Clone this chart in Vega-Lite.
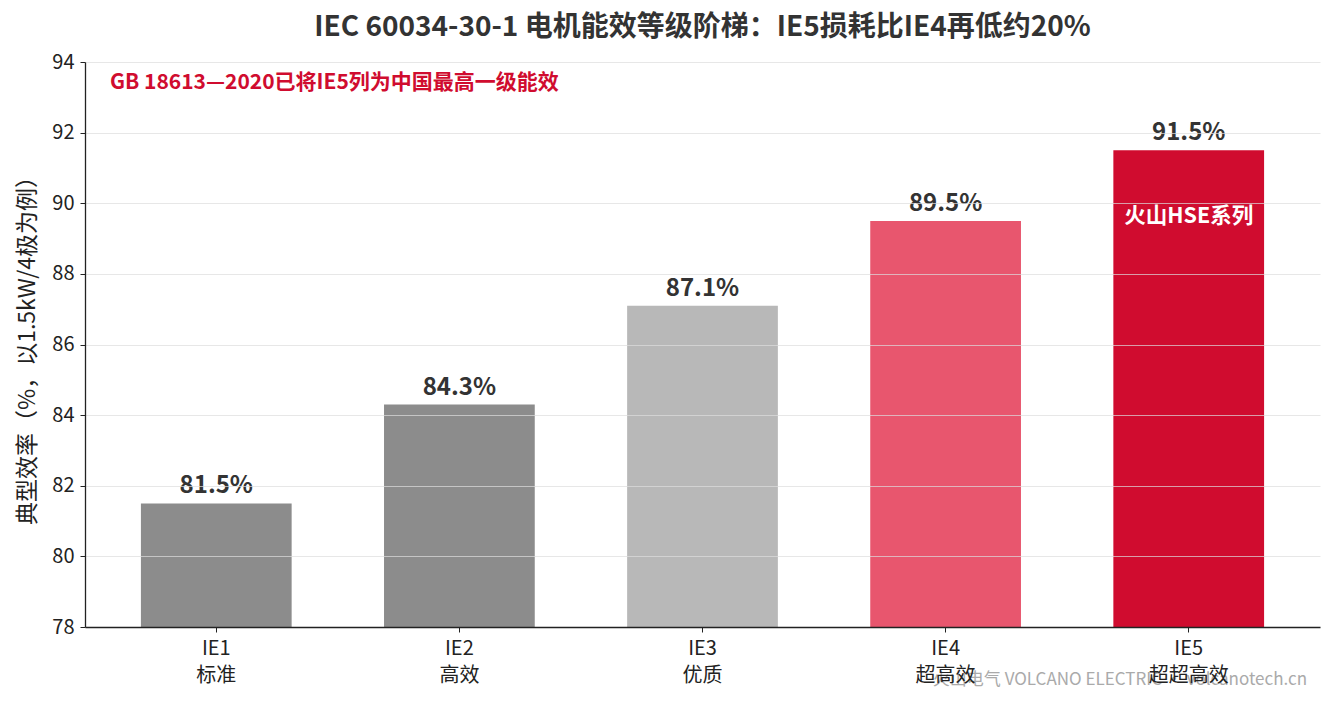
{
  "$schema": "https://vega.github.io/schema/vega-lite/v6.json",
  "width": 1235,
  "height": 565,
  "autosize": {"type": "none"},
  "padding": {"left": 85, "top": 62, "right": 15, "bottom": 77},
  "background": "white",
  "config": {
    "font": "Noto Sans CJK SC",
    "view": {"stroke": null}
  },
  "title": {
    "text": "IEC 60034-30-1 电机能效等级阶梯：IE5损耗比IE4再低约20%",
    "fontSize": 28,
    "fontWeight": "bold",
    "color": "#333333",
    "frame": "group",
    "anchor": "middle",
    "offset": 10
  },
  "data": {
    "values": [
      {"level": "IE1|标准", "eff": 81.5, "label": "81.5%"},
      {"level": "IE2|高效", "eff": 84.3, "label": "84.3%"},
      {"level": "IE3|优质", "eff": 87.1, "label": "87.1%"},
      {"level": "IE4|超高效", "eff": 89.5, "label": "89.5%"},
      {"level": "IE5|超超高效", "eff": 91.5, "label": "91.5%"}
    ]
  },
  "encoding": {
    "x": {
      "field": "level",
      "type": "nominal",
      "sort": null,
      "scale": {
        "domain": ["IE1|标准", "IE2|高效", "IE3|优质", "IE4|超高效", "IE5|超超高效"],
        "paddingInner": 0.38,
        "paddingOuter": 0.23
      },
      "axis": {
        "title": null,
        "labelAngle": 0,
        "labelExpr": "split(datum.label, '|')",
        "labelFontSize": 20,
        "labelColor": "#222222",
        "labelLineHeight": 27,
        "labelPadding": 6,
        "tickSize": 5,
        "tickColor": "#222222",
        "domainColor": "#222222",
        "domainWidth": 1.3,
        "zindex": 1
      }
    },
    "y": {
      "field": "eff",
      "type": "quantitative",
      "scale": {"domain": [78, 94], "zero": false, "nice": false},
      "axis": {
        "title": "典型效率（%，以1.5kW/4极为例）",
        "titleFontSize": 23,
        "titleFontWeight": "normal",
        "titleColor": "#222222",
        "titlePadding": 12,
        "values": [78, 80, 82, 84, 86, 88, 90, 92, 94],
        "labelFontSize": 20,
        "labelColor": "#222222",
        "labelPadding": 6,
        "tickSize": 5,
        "tickColor": "#222222",
        "domainColor": "#222222",
        "domainWidth": 1.3,
        "gridColor": "#dddddd",
        "gridOpacity": 0.7,
        "zindex": 1
      }
    }
  },
  "layer": [
    {
      "transform": [{"filter": "datum.level == 'IE5|超超高效'"}],
      "mark": {"type": "text", "text": "火山电气 VOLCANO ELECTRIC · volcanotech.cn", "align": "right", "baseline": "middle", "fontSize": 17, "color": "#aaaaaa", "dx": 43},
      "encoding": {
        "x": {"field": "level", "type": "nominal", "bandPosition": 1},
        "y": {"datum": 76.5}
      }
    },
    {
      "mark": {"type": "bar"},
      "encoding": {
        "y2": {"datum": 78},
        "color": {
          "field": "level",
          "type": "nominal",
          "scale": {
            "domain": ["IE1|标准", "IE2|高效", "IE3|优质", "IE4|超高效", "IE5|超超高效"],
            "range": ["#8c8c8c", "#8c8c8c", "#b8b8b8", "#e8566e", "#d00c2f"]
          },
          "legend": null
        }
      }
    },
    {
      "mark": {"type": "text", "baseline": "bottom", "dy": -5, "fontSize": 24, "fontWeight": "bold", "color": "#333333"},
      "encoding": {"text": {"field": "label"}}
    },
    {
      "transform": [{"filter": "datum.level == 'IE5|超超高效'"}],
      "mark": {"type": "text", "text": "火山HSE系列", "baseline": "middle", "dy": 67, "fontSize": 21.5, "fontWeight": "bold", "color": "white"}
    },
    {
      "transform": [{"filter": "datum.level == 'IE1|标准'"}],
      "mark": {"type": "text", "text": "GB 18613—2020已将IE5列为中国最高一级能效", "align": "left", "baseline": "middle", "fontSize": 21, "fontWeight": "bold", "color": "#d00c2f", "dx": -31},
      "encoding": {
        "x": {"field": "level", "type": "nominal", "bandPosition": 0},
        "y": {"datum": 93.4}
      }
    }
  ]
}
